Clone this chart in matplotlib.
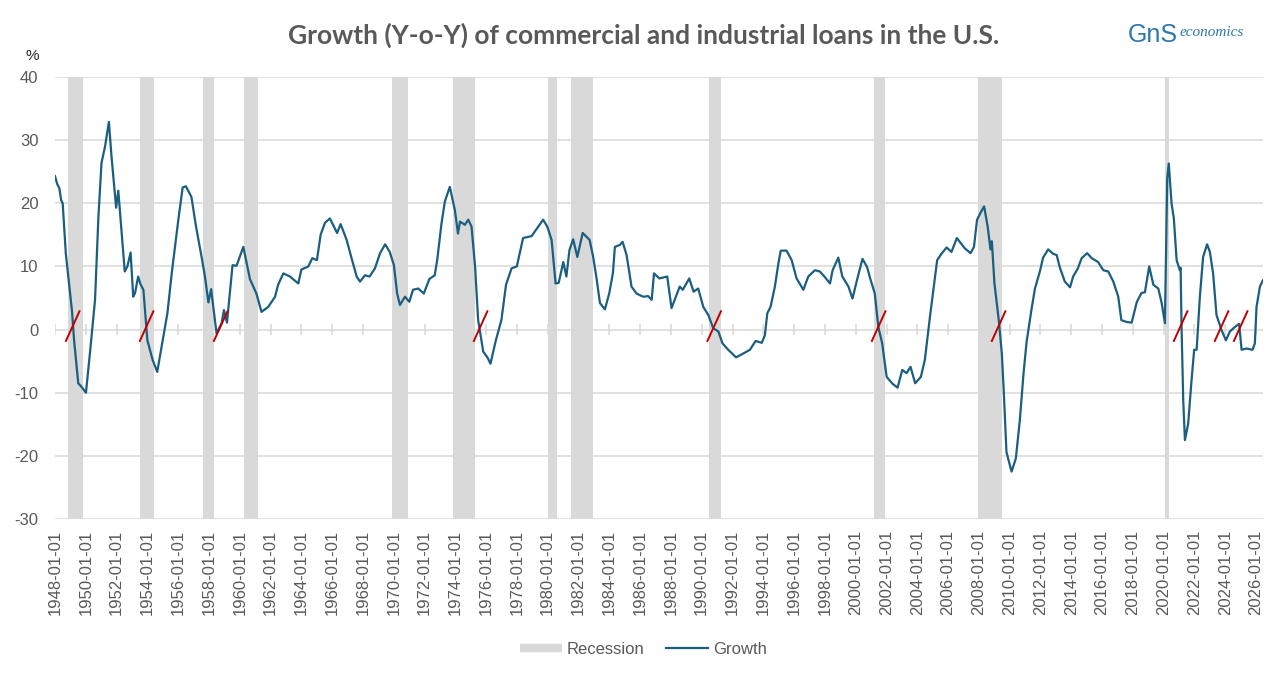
import matplotlib
matplotlib.use("Agg")
import matplotlib.pyplot as plt
from matplotlib.lines import Line2D
import numpy as np

# growth series (decimal year, % y-o-y)
growth_years = [
    1948.00, 1948.15, 1948.28, 1948.40, 1948.50, 1948.70, 1948.98, 1949.10, 1949.24, 1949.35,
    1949.51, 1949.70, 1950.01, 1950.27, 1950.60, 1950.82, 1951.02, 1951.25, 1951.50, 1951.67,
    1951.97, 1952.11, 1952.33, 1952.53, 1952.70, 1952.91, 1953.08, 1953.20, 1953.40, 1953.55,
    1953.74, 1954.00, 1954.34, 1954.64, 1955.04, 1955.30, 1955.58, 1956.01, 1956.29, 1956.50,
    1956.86, 1957.16, 1957.52, 1957.74, 1957.96, 1958.14, 1958.49, 1958.82, 1958.97, 1959.17,
    1959.53, 1959.79, 1960.23, 1960.66, 1961.08, 1961.41, 1961.85, 1962.29, 1962.49, 1962.83,
    1963.26, 1963.80, 1964.00, 1964.45, 1964.71, 1965.01, 1965.25, 1965.53, 1965.85, 1966.32,
    1966.55, 1966.94, 1967.26, 1967.59, 1967.81, 1968.13, 1968.43, 1968.78, 1969.11, 1969.44,
    1969.74, 1970.01, 1970.22, 1970.40, 1970.73, 1971.01, 1971.25, 1971.59, 1971.95, 1972.31,
    1972.66, 1972.82, 1973.10, 1973.32, 1973.64, 1973.97, 1974.17, 1974.30, 1974.62, 1974.84,
    1975.05, 1975.28, 1975.48, 1975.81, 1976.08, 1976.28, 1976.63, 1976.99, 1977.29, 1977.65,
    1977.99, 1978.40, 1978.95, 1979.30, 1979.70, 1979.97, 1980.25, 1980.51, 1980.71, 1981.01,
    1981.21, 1981.41, 1981.65, 1981.92, 1982.27, 1982.52, 1982.72, 1982.95, 1983.17, 1983.39,
    1983.71, 1983.99, 1984.23, 1984.36, 1984.68, 1984.86, 1985.12, 1985.44, 1985.77, 1986.20,
    1986.52, 1986.75, 1986.90, 1987.25, 1987.76, 1988.04, 1988.57, 1988.77, 1989.19, 1989.47,
    1989.77, 1990.10, 1990.43, 1990.75, 1991.08, 1991.35, 1991.72, 1992.23, 1992.69, 1993.13,
    1993.50, 1993.90, 1994.10, 1994.26, 1994.47, 1994.75, 1994.98, 1995.13, 1995.51, 1995.84,
    1996.16, 1996.60, 1996.92, 1997.35, 1997.67, 1998.00, 1998.33, 1998.50, 1998.87, 1999.13,
    1999.53, 1999.79, 2000.14, 2000.44, 2000.74, 2000.94, 2001.24, 2001.47, 2001.72, 2002.01,
    2002.40, 2002.72, 2003.02, 2003.31, 2003.56, 2003.86, 2004.23, 2004.49, 2004.82, 2005.29,
    2005.57, 2005.90, 2006.22, 2006.57, 2007.07, 2007.46, 2007.68, 2007.88, 2008.15, 2008.34,
    2008.57, 2008.75, 2008.84, 2009.01, 2009.29, 2009.49, 2009.62, 2009.79, 2010.12, 2010.40,
    2010.66, 2010.90, 2011.10, 2011.41, 2011.64, 2011.96, 2012.17, 2012.50, 2012.82, 2013.05,
    2013.26, 2013.58, 2013.92, 2014.12, 2014.43, 2014.67, 2015.03, 2015.33, 2015.74, 2016.08,
    2016.40, 2016.73, 2017.05, 2017.25, 2017.60, 2017.92, 2018.26, 2018.56, 2018.78, 2019.06,
    2019.33, 2019.65, 2019.87, 2020.08, 2020.23, 2020.33, 2020.51, 2020.66, 2020.84, 2021.05,
    2021.10, 2021.16, 2021.27, 2021.38, 2021.59, 2021.81, 2021.98, 2022.14, 2022.35, 2022.56,
    2022.82, 2023.00, 2023.21, 2023.43, 2023.76, 2024.04, 2024.30, 2024.62, 2024.90, 2025.06,
    2025.38, 2025.77, 2025.92, 2026.03, 2026.25, 2026.44,
]
growth_values = [
    24.3, 23.0, 22.4, 20.5, 20.0, 12.1, 5.8, 3.0, -1.7, -4.5,
    -8.5, -9.0, -10.0, -3.7, 4.7, 17.9, 26.4, 29.0, 32.9, 27.4,
    19.3, 22.0, 15.3, 9.2, 10.0, 12.2, 5.2, 5.8, 8.4, 7.2,
    6.3, -1.7, -4.8, -6.7, -1.1, 2.6, 8.9, 17.4, 22.5, 22.7,
    21.0, 16.3, 11.5, 8.4, 4.3, 6.4, -0.6, 1.0, 3.1, 1.1,
    10.2, 10.1, 13.1, 8.0, 5.7, 2.8, 3.6, 5.2, 7.1, 8.9,
    8.4, 7.3, 9.5, 10.0, 11.3, 11.0, 15.0, 16.9, 17.6, 15.3,
    16.7, 14.2, 11.3, 8.4, 7.6, 8.6, 8.4, 9.7, 12.1, 13.5,
    12.3, 10.2, 5.7, 3.9, 5.2, 4.4, 6.3, 6.5, 5.7, 8.0,
    8.6, 11.0, 16.8, 20.3, 22.6, 18.9, 15.2, 17.1, 16.6, 17.4,
    16.3, 10.0, 1.5, -3.5, -4.4, -5.4, -1.7, 1.5, 7.1, 9.7,
    10.0, 14.5, 14.8, 16.0, 17.4, 16.3, 14.2, 7.3, 7.4, 10.7,
    8.4, 12.6, 14.3, 11.5, 15.3, 14.7, 14.2, 11.5, 8.1, 4.2,
    3.2, 5.7, 8.9, 13.1, 13.4, 13.9, 11.8, 6.8, 5.7, 5.2,
    5.3, 4.7, 8.9, 8.1, 8.4, 3.4, 6.8, 6.3, 8.1, 6.0,
    6.5, 3.6, 2.3, 0.2, -0.3, -2.2, -3.2, -4.4, -3.8, -3.2,
    -1.8, -2.1, -0.9, 2.6, 3.6, 6.8, 10.5, 12.5, 12.5, 11.0,
    8.1, 6.3, 8.4, 9.4, 9.2, 8.3, 7.3, 9.4, 11.4, 8.4,
    6.8, 4.9, 8.4, 11.2, 9.9, 8.1, 5.7, 0.4, -2.2, -7.5,
    -8.6, -9.2, -6.4, -6.9, -5.9, -8.5, -7.5, -4.8, 2.0, 11.0,
    12.0, 13.0, 12.3, 14.5, 12.9, 12.1, 13.1, 17.4, 18.7, 19.5,
    16.3, 12.7, 14.0, 7.3, 1.5, -3.8, -10.1, -19.4, -22.5, -20.4,
    -14.3, -6.9, -1.9, 3.1, 6.5, 9.2, 11.4, 12.7, 12.0, 11.8,
    9.8, 7.6, 6.7, 8.4, 9.7, 11.3, 12.1, 11.3, 10.7, 9.4,
    9.2, 7.6, 5.2, 1.5, 1.2, 1.1, 4.4, 5.8, 5.9, 10.0,
    7.1, 6.5, 4.2, 1.0, 24.0, 26.3, 20.0, 17.6, 11.0, 9.4,
    9.8, 0.4, -11.2, -17.5, -14.9, -8.0, -3.2, -3.2, 5.2, 11.5,
    13.5, 12.3, 8.9, 2.3, -0.1, -1.7, -0.3, 0.4, 0.9, -3.2,
    -3.0, -3.2, -2.2, 3.6, 6.8, 7.8,
]

# NBER recessions (peak month, trough month)
rec_start = ["1948-11", "1953-07", "1957-08", "1960-04", "1969-12", "1973-11",
             "1980-01", "1981-07", "1990-07", "2001-03", "2007-12", "2020-02"]
rec_end = ["1949-10", "1954-05", "1958-04", "1961-02", "1970-11", "1975-03",
           "1980-07", "1982-11", "1991-03", "2001-11", "2009-06", "2020-04"]

# red slashes where growth turns negative
slash_years = [1949.15, 1953.95, 1958.76, 1975.64, 1990.81, 2001.49, 2009.28,
               2021.10, 2023.76, 2025.00]

tick_years = list(range(1948, 2027, 2))
tick_labels = [f"{y}-01-01" for y in tick_years]


def to_dec(s, end=False):
    y, m = s.split("-")
    v = int(y) + (int(m) - 1) / 12.0
    if end:
        v += 1 / 12.0
    return v


GRAY = "#d9d9d9"
TXT = "#595959"
BLUE = "#1b5e80"

plt.rcParams['font.family'] = ['Liberation Sans', 'DejaVu Sans']
plt.rcParams['axes.unicode_minus'] = False

fig = plt.figure(figsize=(12.87, 6.79), dpi=100)
ax = fig.add_axes([55 / 1287, 1 - 519 / 679, (1263 - 55) / 1287, (519 - 77) / 679])

for s, e in zip(rec_start, rec_end):
    ax.axvspan(to_dec(s), to_dec(e, end=True), color=GRAY, lw=0, zorder=1)

for yv in range(-30, 41, 10):
    ax.axhline(yv, color=GRAY, lw=1.1, zorder=0)

# small ticks crossing the zero line
ax.vlines(tick_years, -0.85, 0.85, color=GRAY, lw=1.1, zorder=0)

ax.plot(growth_years, growth_values, color=BLUE, lw=1.6, zorder=3)

for sy in slash_years:
    ax.plot([sy - 0.44, sy + 0.44], [-1.8, 2.9], color="#c00000", lw=1.4, zorder=4)

ax.set_xlim(1948.0, 2026.45)
ax.set_ylim(-30, 40)
ax.set_yticks(range(-30, 41, 10))
ax.set_xticks(tick_years)
ax.set_xticklabels(tick_labels, rotation=90)
ax.tick_params(axis='both', length=0, labelsize=12, labelcolor=TXT)
ax.tick_params(axis='y', pad=12)
ax.tick_params(axis='x', pad=8)
for sp in ax.spines.values():
    sp.set_visible(False)

fig.text(0.5, 1 - 35 / 679, "Growth (Y-o-Y) of commercial and industrial loans in the U.S.",
         ha='center', va='center', fontsize=19, fontweight='bold', color=TXT,
         family=['Lato', 'DejaVu Sans'])
fig.text(32 / 1287, 1 - 56 / 679, "%", ha='center', va='center', fontsize=11, color="#262626")

# logo
fig.text(1128 / 1287, 1 - 35 / 679, "GnS", ha='left', va='center', fontsize=18,
         color="#2a78b0", family=['Liberation Sans'])
fig.text(1180 / 1287, 1 - 32 / 679, "economics", ha='left', va='center', fontsize=11,
         color="#2a78b0", style='italic', family=['Liberation Serif'])

handles = [Line2D([], [], color=GRAY, lw=6, solid_capstyle='butt'),
           Line2D([], [], color=BLUE, lw=1.6)]
fig.legend(handles, ["Recession", "Growth"], loc='center', bbox_to_anchor=(0.5, 1 - 649 / 679),
           ncol=2, frameon=False, fontsize=12, labelcolor=TXT, handlelength=2.5,
           handletextpad=0.3, columnspacing=1.3)

fig.savefig("out.png", dpi=100)
